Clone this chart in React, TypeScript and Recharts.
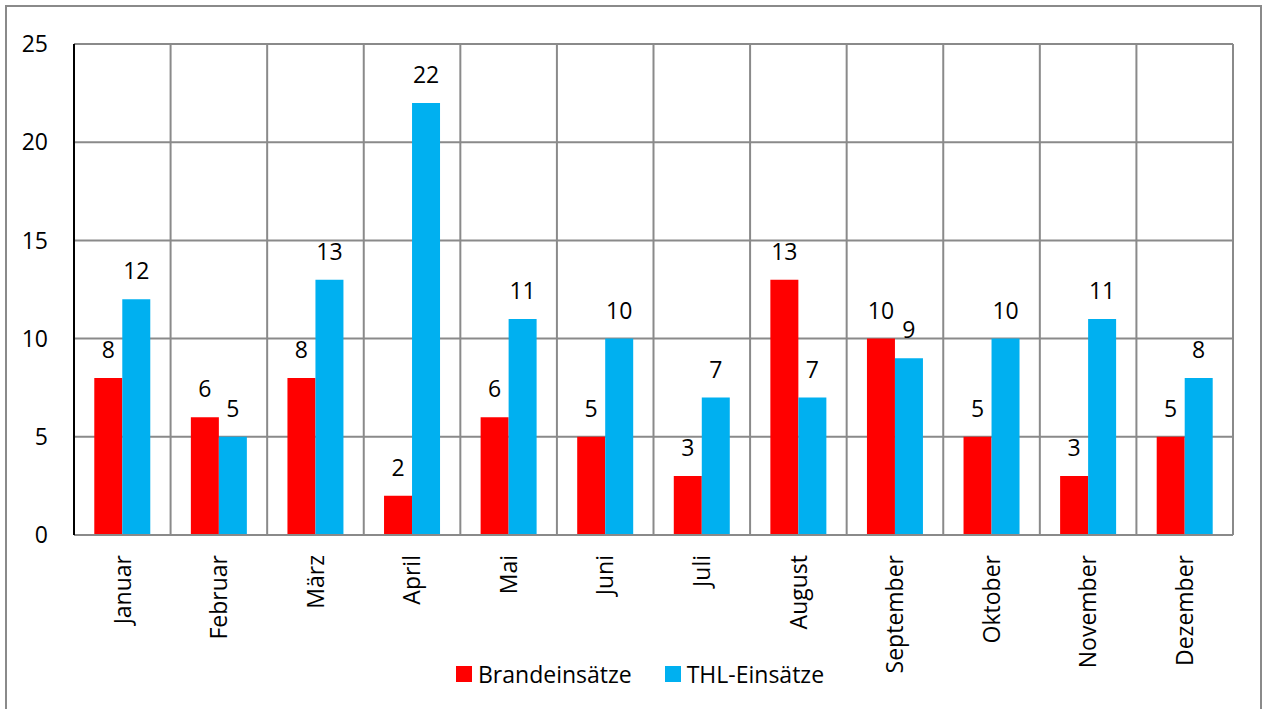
import React from "react";
import { Bar, BarChart, CartesianGrid, LabelList, Legend, XAxis, YAxis } from "recharts";

const months = [
	"Januar",
	"Februar",
	"März",
	"April",
	"Mai",
	"Juni",
	"Juli",
	"August",
	"September",
	"Oktober",
	"November",
	"Dezember",
];
const brand = [8, 6, 8, 2, 6, 5, 3, 13, 10, 5, 3, 5];
const thl = [12, 5, 13, 22, 11, 10, 7, 7, 9, 10, 11, 8];
const yTicks = [0, 5, 10, 15, 20, 25];

const FONT = "'Open Sans', sans-serif";
const RED = "#ff0000";
const BLUE = "#00b0f0";
const GRID = "#8a8a8a";

const data = months.map((m, i) => ({ month: m, brand: brand[i], thl: thl[i] }));

function MonthTick({ x, y, payload }: any) {
	return (
		<text
			transform={`translate(${x},${y + 12}) rotate(-90)`}
			textAnchor="end"
			dy="0.36em"
			fontSize={23}
			fontFamily={FONT}
			fill="#000"
		>
			{payload.value}
		</text>
	);
}

function LegendBox({ payload }: any) {
	return (
		<div style={{ display: "flex", alignItems: "center", fontFamily: FONT, fontSize: 23, color: "#000" }}>
			{(payload || []).map((p: any, i: number) => (
				<div key={i} style={{ display: "flex", alignItems: "center", marginRight: 33 }}>
					<span style={{ width: 16, height: 16, background: p.color, marginRight: 6, display: "inline-block" }} />
					<span>{p.value}</span>
				</div>
			))}
		</div>
	);
}

export default function App() {
	return (
		<div style={{ position: "absolute", left: 0, top: 0, width: 1263, height: 709, overflow: "hidden", background: "#fff" }}>
			<div
				style={{
					position: "absolute",
					left: 5,
					top: 5,
					width: 1253,
					height: 740,
					border: `2px solid ${GRID}`,
				}}
			/>
			<BarChart
				width={1263}
				height={709}
				data={data}
				margin={{ top: 44, right: 30, left: 0, bottom: 0 }}
				barCategoryGap="21%"
				barGap={0}
				style={{ position: "absolute", left: 0, top: 0 }}
			>
				<CartesianGrid
					stroke={GRID}
					strokeWidth={2}
					verticalCoordinatesGenerator={({ offset }: any) =>
						months.map((_, i) => offset.left + (i * offset.width) / months.length).concat(offset.left + offset.width)
					}
				/>
				<XAxis
					dataKey="month"
					height={174}
					tickLine={false}
					axisLine={{ stroke: GRID, strokeWidth: 2 }}
					tick={<MonthTick />}
					interval={0}
				/>
				<YAxis
					width={74}
					domain={[0, 25]}
					ticks={yTicks}
					tickLine={false}
					tickMargin={20}
					axisLine={{ stroke: "#000", strokeWidth: 2 }}
					tick={{ fontSize: 23, fontFamily: FONT, fill: "#000" }}
				/>
				<Legend
					layout="horizontal"
					verticalAlign="middle"
					align="center"
					wrapperStyle={{ left: 456, top: 658, width: 500 }}
					content={<LegendBox />}
				/>
				<Bar dataKey="brand" name="Brandeinsätze" fill={RED} isAnimationActive={false}>
					<LabelList dataKey="brand" position="top" offset={20} fill="#000" fontSize={23} fontFamily={FONT} />
				</Bar>
				<Bar dataKey="thl" name="THL-Einsätze" fill={BLUE} isAnimationActive={false}>
					<LabelList dataKey="thl" position="top" offset={20} fill="#000" fontSize={23} fontFamily={FONT} />
				</Bar>
			</BarChart>
		</div>
	);
}
